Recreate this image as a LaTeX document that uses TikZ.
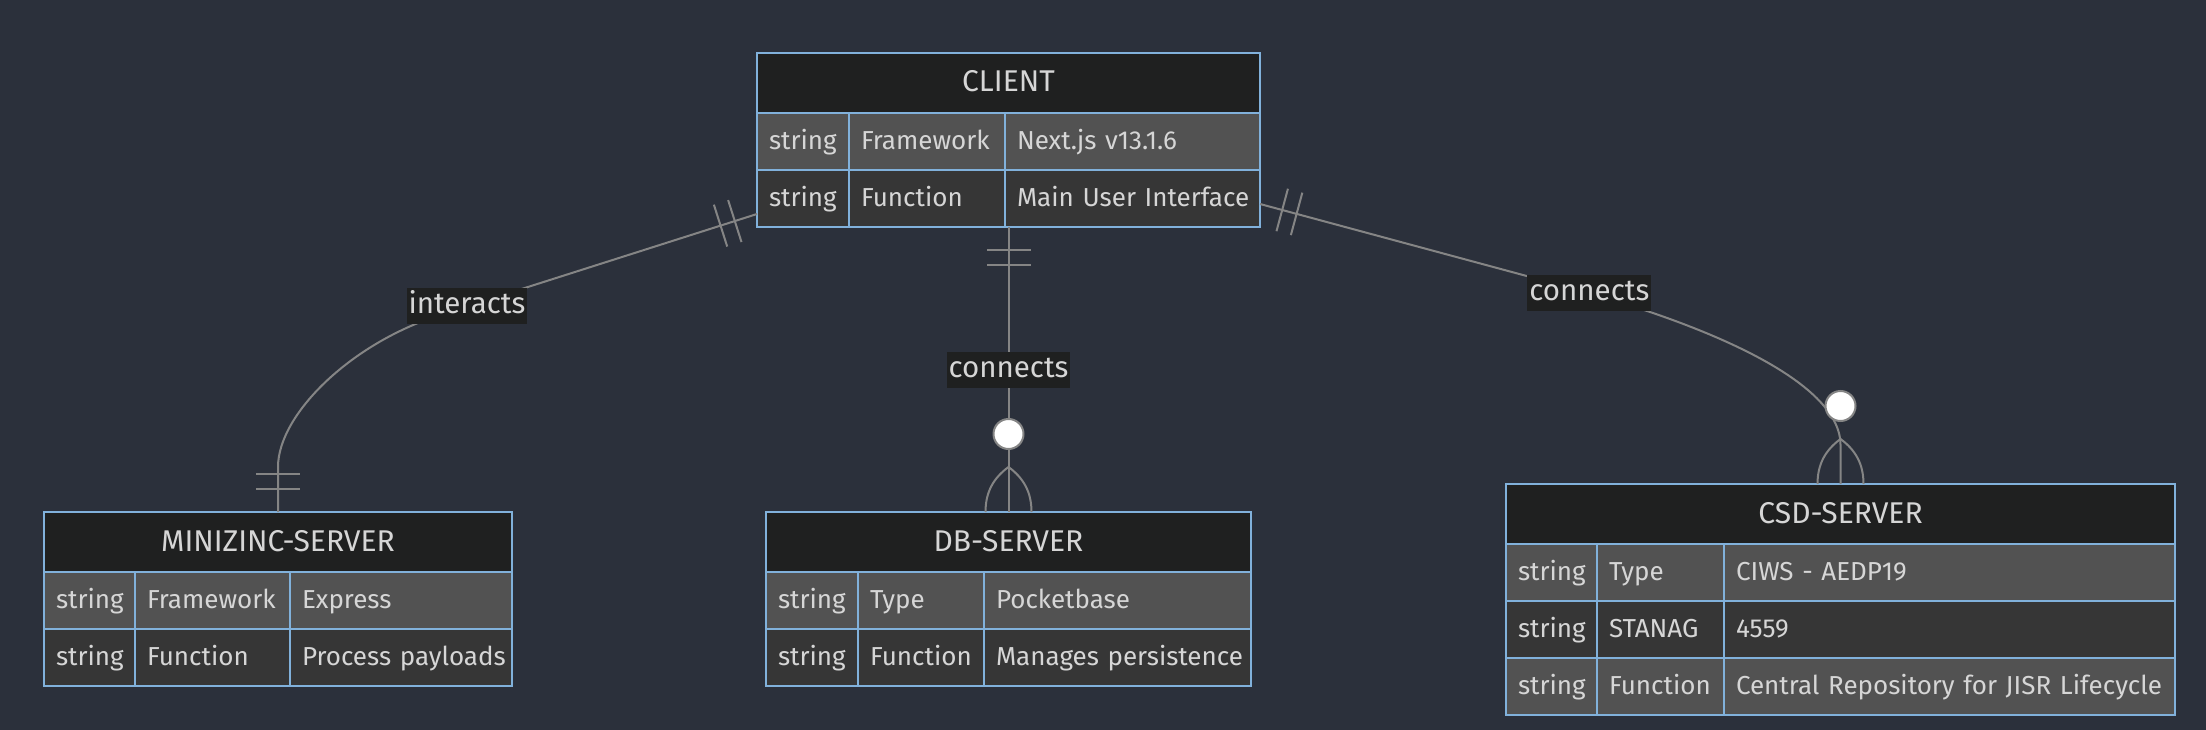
\documentclass[tikz,border=0pt]{standalone}
\usepackage{fontspec}
\setmainfont{Fira Sans}
\usetikzlibrary{positioning}
\definecolor{bgdark}{HTML}{2B303B}
\definecolor{titlebg}{HTML}{1F2020}
\definecolor{rowodd}{HTML}{525252}
\definecolor{roweven}{HTML}{363636}
\definecolor{erborder}{HTML}{81B1DB}
\definecolor{ertext}{HTML}{D6D6D6}
\definecolor{linkgray}{HTML}{858585}
\newcommand{\erfont}{\fontsize{26pt}{31pt}\selectfont}
\newcommand{\ertitlefont}{\fontsize{30pt}{36pt}\selectfont}
\newcommand{\erlabelfont}{\fontsize{29.5pt}{35pt}\selectfont}
\tikzset{
    er-cell/.style = {draw=erborder, line width=2pt, inner sep=0pt, outer sep=0pt, inner xsep=12pt, minimum height=57pt, text=ertext, font=\erfont, text height=19pt, text depth=3pt, align=left,
        execute at begin node={\hbox\bgroup}, execute at end node={\egroup}},
    er-head/.style = {draw=erborder, line width=2pt, inner sep=0pt, outer sep=0pt, text=ertext, fill=titlebg, minimum height=60pt, anchor=north west, font=\ertitlefont, text height=24pt, text depth=6pt},
    er-odd/.style = {er-cell, fill=rowodd, text width=#1},
    er-even/.style = {er-cell, fill=roweven, text width=#1},
    link/.style = {draw=linkgray, line width=2pt},
    link-label/.style = {fill=titlebg, text=ertext, font=\erlabelfont, inner sep=0pt, inner xsep=2pt, minimum height=36pt, text height=21pt, text depth=6pt},
    one-bar/.style = {fill=linkgray, minimum width=2pt, minimum height=44pt, inner sep=0pt, sloped},
    zero-many/.pic = {
        \draw[link] (-23,0) .. controls (-23,-20) and (-15,-34) .. (0,-45)
                            .. controls (15,-34) and (23,-20) .. (23,0);
        \draw[link, fill=white] (0,-78) circle[radius=15pt];
    },
}

\begin{document}
\begin{tikzpicture}[x=1pt, y=-1pt]
\fill[bgdark] (0,0) rectangle (2206,730);

% client
\node[er-head, minimum width=503pt] (client) at (757,53) {CLIENT};
\node[er-odd=68pt, anchor=north west] (client-t1) at (client.south west) {string};
\node[er-odd=132pt, right=0pt of client-t1] (client-n1) {Framework};
\node[er-odd=231pt, right=0pt of client-n1] (client-v1) {Next.js v13.1.6};
\node[er-even=68pt, anchor=north west] (client-t2) at (client-t1.south west) {string};
\node[er-even=132pt, right=0pt of client-t2] (client-n2) {Function};
\node[er-even=231pt, right=0pt of client-n2] (client-v2) {Main User Interface};

% minizinc server
\node[er-head, minimum width=468pt] (minizinc) at (44,512) {MINIZINC-SERVER};
\node[er-odd=67pt, anchor=north west] (mz-t1) at (minizinc.south west) {string};
\node[er-odd=131pt, right=0pt of mz-t1] (mz-n1) {Framework};
\node[er-odd=198pt, right=0pt of mz-n1] (mz-v1) {Express};
\node[er-even=67pt, anchor=north west] (mz-t2) at (mz-t1.south west) {string};
\node[er-even=131pt, right=0pt of mz-t2] (mz-n2) {Function};
\node[er-even=198pt, right=0pt of mz-n2] (mz-v2) {Process payloads};

% db server
\node[er-head, minimum width=485pt] (db) at (766,512) {DB-SERVER};
\node[er-odd=68pt, anchor=north west] (db-t1) at (db.south west) {string};
\node[er-odd=102pt, right=0pt of db-t1] (db-n1) {Type};
\node[er-odd=243pt, right=0pt of db-n1] (db-v1) {Pocketbase};
\node[er-even=68pt, anchor=north west] (db-t2) at (db-t1.south west) {string};
\node[er-even=102pt, right=0pt of db-t2] (db-n2) {Function};
\node[er-even=243pt, right=0pt of db-n2] (db-v2) {Manages persistence};

% csd server
\node[er-head, minimum width=669pt] (csd) at (1506,484) {CSD-SERVER};
\node[er-odd=67pt, anchor=north west] (csd-t1) at (csd.south west) {string};
\node[er-odd=103pt, right=0pt of csd-t1] (csd-n1) {Type};
\node[er-odd=427pt, right=0pt of csd-n1] (csd-v1) {CIWS - AEDP19};
\node[er-even=67pt, anchor=north west] (csd-t2) at (csd-t1.south west) {string};
\node[er-even=103pt, right=0pt of csd-t2] (csd-n2) {STANAG};
\node[er-even=427pt, right=0pt of csd-n2] (csd-v2) {4559};
\node[er-odd=67pt, anchor=north west] (csd-t3) at (csd-t2.south west) {string};
\node[er-odd=103pt, right=0pt of csd-t3] (csd-n3) {Function};
\node[er-odd=427pt, right=0pt of csd-n3] (csd-v3) {Central Repository for JISR Lifecycle};

% relationships
\coordinate (mz-bend) at (440,315);
\coordinate (mz-drop) at (278,467);
\draw[link] ([yshift=13pt]client-t2.south west) -- (mz-bend)
    node[one-bar, pos=0.07] (bar-mz1) {} node[one-bar, pos=0.115] (bar-mz2) {}
    node[link-label, pos=0.915] (lbl-interacts) {interacts}
    .. controls (350,343.6) and (278,415) .. (mz-drop) -- (minizinc.north)
    node[one-bar, pos=0.156] (bar-mz3) {} node[one-bar, pos=0.489] (bar-mz4) {};

\draw[link] (client.south |- client-t2.south) -- (db.north)
    node[one-bar, pos=0.081] (bar-db1) {} node[one-bar, pos=0.133] (bar-db2) {}
    node[link-label, midway] (lbl-db) {connects};
\pic at (db.north) {zero-many};

\coordinate (csd-bend) at (1560,285);
\coordinate (csd-drop) at (1840.5,445);
\draw[link] ([yshift=23pt]client-v2.south east) -- (csd-bend)
    node[one-bar, pos=0.074] (bar-csd1) {} node[one-bar, pos=0.122] (bar-csd2) {}
    .. controls (1700,322) and (1840.5,380) .. (csd-drop)
    node[link-label, pos=0.07] (lbl-csd) {connects} -- (csd.north);
\pic at (csd.north) {zero-many};
\end{tikzpicture}
\end{document}
